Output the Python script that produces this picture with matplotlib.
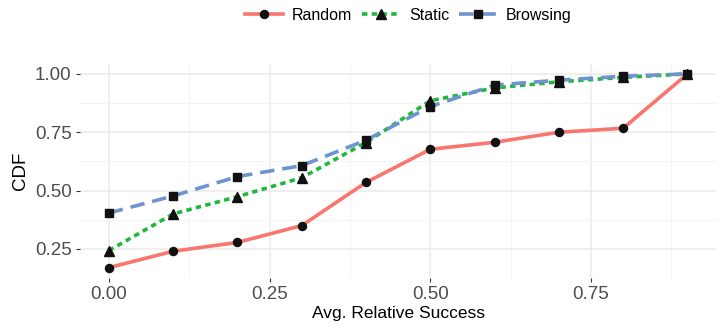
import numpy as np
import matplotlib.pyplot as plt
from matplotlib.ticker import MultipleLocator

plt.rcParams['font.family'] = ['Liberation Sans', 'DejaVu Sans']

# values
success = [0.0, 0.1, 0.2, 0.3, 0.4, 0.5, 0.6, 0.7, 0.8, 0.9]
random_cdf = [0.170, 0.240, 0.278, 0.350, 0.535, 0.677, 0.707, 0.750, 0.767, 1.0]
static_cdf = [0.243, 0.400, 0.474, 0.555, 0.706, 0.885, 0.940, 0.966, 0.985, 1.0]
browsing_cdf = [0.404, 0.477, 0.560, 0.607, 0.716, 0.860, 0.952, 0.973, 0.990, 1.0]

x_ticks = [0.0, 0.25, 0.5, 0.75]
y_ticks = [0.25, 0.5, 0.75, 1.0]

fig = plt.figure(figsize=(7.2, 3.32), dpi=100)
ax = fig.add_axes([0.111, 0.163, 0.884, 0.644])

ax.plot(success, random_cdf, color="#F8766D", lw=2.6, ls="-",
        marker="o", ms=5.8, mfc="#111111", mec="#111111", label="Random", zorder=3)
ax.plot(success, static_cdf, color="#1DB83C", lw=2.6, ls=(0, (1.5, 1.2)),
        marker="^", ms=6.8, mfc="#111111", mec="#111111", label="Static", zorder=3)
ax.plot(success, browsing_cdf, color="#6F93CF", lw=2.6, ls=(0, (4, 2.2)),
        marker="s", ms=6.3, mfc="#111111", mec="#111111", label="Browsing", zorder=4)

ax.set_xlim(-0.045, 0.945)
ax.set_ylim(0.126, 1.042)
ax.set_xticks(x_ticks)
ax.set_yticks(y_ticks)
ax.set_xticklabels(["0.00", "0.25", "0.50", "0.75"])
ax.set_yticklabels(["0.25", "0.50", "0.75", "1.00"])
ax.xaxis.set_minor_locator(MultipleLocator(0.125))
ax.yaxis.set_minor_locator(MultipleLocator(0.125))

ax.grid(which="major", color="#EBEBEB", lw=1.1)
ax.grid(which="minor", color="#F4F4F4", lw=0.8)
ax.set_axisbelow(True)
for s in ax.spines.values():
    s.set_visible(False)
ax.tick_params(which="major", length=3, color="#333333", labelsize=13.5,
               labelcolor="#4D4D4D", pad=3)
ax.tick_params(which="minor", length=0)

ax.set_xlabel("Avg. Relative Success", fontsize=12.5, labelpad=2)
ax.set_ylabel("CDF", fontsize=13.5, labelpad=4)

fig.legend(loc="upper center", bbox_to_anchor=(0.567, 1.02), ncol=3,
           frameon=False, fontsize=11.5, handlelength=2.4, columnspacing=0.6,
           handletextpad=0.55)

fig.savefig("out.png", dpi=100)
